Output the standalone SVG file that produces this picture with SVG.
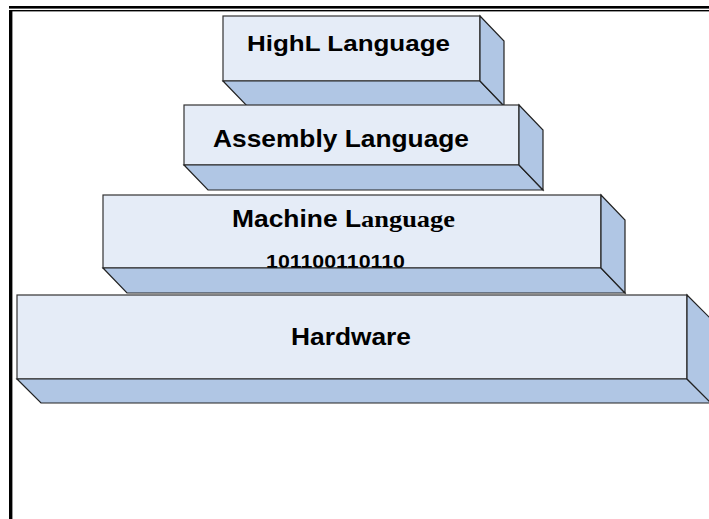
<svg xmlns="http://www.w3.org/2000/svg" width="709" height="519" viewBox="0 0 709 519">
<style>
.front{fill:#E5ECF7;stroke:#333;stroke-width:1.2}
.bevel{fill:#B0C6E4;stroke:#222;stroke-width:1.2;stroke-linejoin:miter}
.lbl{font-family:"Liberation Sans",Arial,sans-serif;font-weight:bold;fill:#000}
.serif{font-family:"Liberation Serif","Times New Roman",serif;font-weight:bold}
</style>
<rect width="709" height="519" fill="#fff"/>
<g id="frame" fill="#000">
<rect x="9" y="6" width="700" height="2.6"/>
<rect x="12" y="10" width="697" height="1.4"/>
<rect x="9" y="10" width="3.4" height="509"/>
</g>
<g id="highl">
<rect class="front" x="223" y="16" width="257" height="65"/>
<text class="lbl" x="247" y="51" font-size="22.5" textLength="203" lengthAdjust="spacingAndGlyphs">HighL Language</text>
<polygon class="bevel" points="223,81 480,81 504,106 247,106"/>
<polygon class="bevel" points="480,16 504,41 504,106 480,81"/>
</g>
<g id="assembly">
<rect class="front" x="184" y="105" width="335" height="60"/>
<text class="lbl" x="213" y="147" font-size="24" textLength="256" lengthAdjust="spacingAndGlyphs">Assembly Language</text>
<polygon class="bevel" points="184,165 519,165 543,190 208,190"/>
<polygon class="bevel" points="519,105 543,130 543,190 519,165"/>
</g>
<g id="machine">
<rect class="front" x="103" y="195" width="498" height="73"/>
<text class="lbl" x="232" y="227" font-size="24" textLength="223" lengthAdjust="spacingAndGlyphs">Machine L<tspan class="serif">anguage</tspan></text>
<text class="lbl" x="266" y="268" font-size="19" textLength="139" lengthAdjust="spacingAndGlyphs">101100110110</text>
<polygon class="bevel" points="103,268 601,268 625,293 127,293"/>
<polygon class="bevel" points="601,195 625,220 625,293 601,268"/>
</g>
<g id="hardware">
<rect class="front" x="17" y="295" width="670" height="84"/>
<text class="lbl" x="291" y="345" font-size="24" textLength="120" lengthAdjust="spacingAndGlyphs">Hardware</text>
<polygon class="bevel" points="17,379 687,379 711,403 41,403"/>
<polygon class="bevel" points="687,295 711,319 711,403 687,379"/>
</g>
</svg>
